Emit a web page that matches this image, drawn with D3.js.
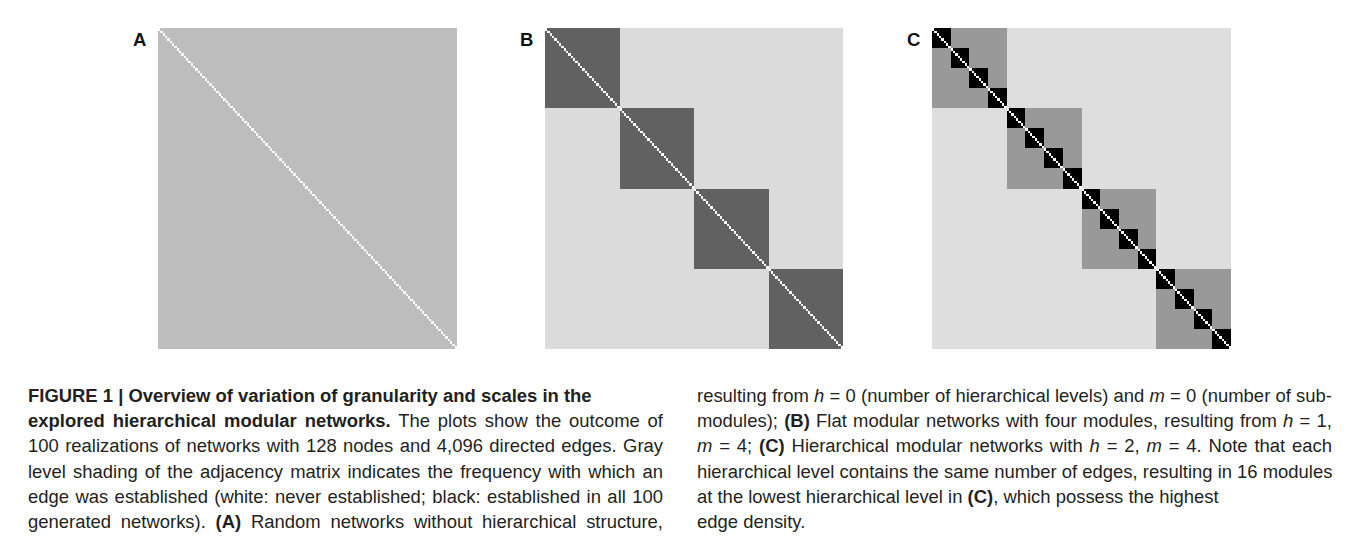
<!DOCTYPE html>
<html><head><meta charset="utf-8">
<script src="https://cdn.jsdelivr.net/npm/d3@7"></script>
<style>html,body{margin:0;padding:0;background:#fff;}svg{display:block;}</style>
</head><body>
<svg id="fig" width="1355" height="540"></svg>
<script>
// ---- data ----
const N = 128;                       // nodes per network
const panelLabels = ["A", "B", "C"];
// module size at each hierarchical level (level 0 = whole network)
const moduleSizesA = [128];
const moduleSizesB = [128, 32];
const moduleSizesC = [128, 32, 8];
// edge frequency (% of 100 realizations) at each level
const freqA = [26];
const freqB = [14, 62];
const freqC = [13, 40, 100];
const selfLoopFreq = 0;

const panelX = [[158, 457], [545, 843], [932, 1231]];
const panelY = [28, 349];

const svg = d3.select("#fig");
const color = d3.scaleLinear().domain([0, 100]).range(["#ffffff", "#000000"]);
const nodes = d3.range(N);

const panels = [
  {label: panelLabels[0], sizes: moduleSizesA, freq: freqA},
  {label: panelLabels[1], sizes: moduleSizesB, freq: freqB},
  {label: panelLabels[2], sizes: moduleSizesC, freq: freqC}
];

panels.forEach((p, pi) => {
  const x = d3.scaleBand().domain(nodes).range(panelX[pi]);
  const y = d3.scaleBand().domain(nodes).range(panelY);
  const blocks = [];
  p.sizes.forEach((s, l) => {
    for (let k = 0; k * s < N; k++) blocks.push({start: k * s, size: s, f: p.freq[l]});
  });
  const g = svg.append("g").attr("shape-rendering", "crispEdges");
  g.selectAll("rect.blk").data(blocks).join("rect").attr("class", "blk")
    .attr("x", d => x(d.start)).attr("y", d => y(d.start))
    .attr("width", d => x.bandwidth() * d.size).attr("height", d => y.bandwidth() * d.size)
    .attr("fill", d => color(d.f));
  g.selectAll("rect.diag").data(nodes).join("rect").attr("class", "diag")
    .attr("x", d => x(d)).attr("y", d => y(d))
    .attr("width", x.bandwidth()).attr("height", y.bandwidth())
    .attr("fill", color(selfLoopFreq));
  svg.append("text").attr("x", panelX[pi][0] - 25).attr("y", 46)
    .attr("font-family", "'Liberation Sans', Arial, sans-serif").attr("font-weight", "bold")
    .attr("font-size", 18.5).attr("fill", "#111").text(p.label);
});

// ---- caption ----
const leftLines = [
  [["b", "FIGURE 1 | Overview of variation of granularity and scales in the"]],
  [["b", "explored hierarchical modular networks."], ["n", " The plots show the outcome of"]],
  [["n", "100 realizations of networks with 128 nodes and 4,096 directed edges. Gray"]],
  [["n", "level shading of the adjacency matrix indicates the frequency with which an"]],
  [["n", "edge was established (white: never established; black: established in all 100"]],
  [["n", "generated networks). "], ["b", "(A)"], ["n", " Random networks without hierarchical structure,"]]
];
const rightLines = [
  [["n", "resulting from "], ["i", "h"], ["n", " = 0 (number of hierarchical levels) and "], ["i", "m"], ["n", " = 0 (number of sub-"]],
  [["n", "modules); "], ["b", "(B)"], ["n", " Flat modular networks with four modules, resulting from "], ["i", "h"], ["n", " = 1,"]],
  [["i", "m"], ["n", " = 4; "], ["b", "(C)"], ["n", " Hierarchical modular networks with "], ["i", "h"], ["n", " = 2, "], ["i", "m"], ["n", " = 4. Note that each"]],
  [["n", "hierarchical level contains the same number of edges, resulting in 16 modules"]],
  [["n", "at the lowest hierarchical level in "], ["b", "(C)"], ["n", ", which possess the highest"]],
  [["n", "edge density."]]
];
const justifyLeft = [false, true, true, true, true, true];
const justifyRight = [true, true, true, true, false, false];

const FONT = "'Liberation Sans', Arial, Helvetica, sans-serif";
function makeLine(segs, x0, yb, fs) {
  const t = svg.append("text").attr("x", x0).attr("y", yb)
    .attr("font-family", FONT).attr("font-size", fs).attr("fill", "#231f20");
  segs.forEach(([st, txt]) => {
    const ts = t.append("tspan").text(txt);
    if (st === "b") ts.attr("font-weight", 700);
    if (st === "i") ts.attr("font-style", "italic");
  });
  return t;
}
// font size chosen so the unjustified line 5 of the right column spans its observed width
const probe = makeLine(rightLines[4], 0, -100, 16);
const fs = Math.min(20, Math.max(14, 16 * 522 / probe.node().getComputedTextLength()));
probe.remove();

const colW = 635;
function drawColumn(lines, x0, justify) {
  lines.forEach((segs, i) => {
    const t = makeLine(segs, x0, 402 + 25.2 * i, fs);
    if (justify[i]) {
      const w = t.node().getComputedTextLength();
      const nSp = segs.map(s => s[1]).join("").split(" ").length - 1;
      if (nSp > 0) t.attr("word-spacing", Math.max(0, (colW - w) / nSp));
    }
  });
}
drawColumn(leftLines, 28, justifyLeft);
drawColumn(rightLines, 697, justifyRight);
</script>
</body></html>
